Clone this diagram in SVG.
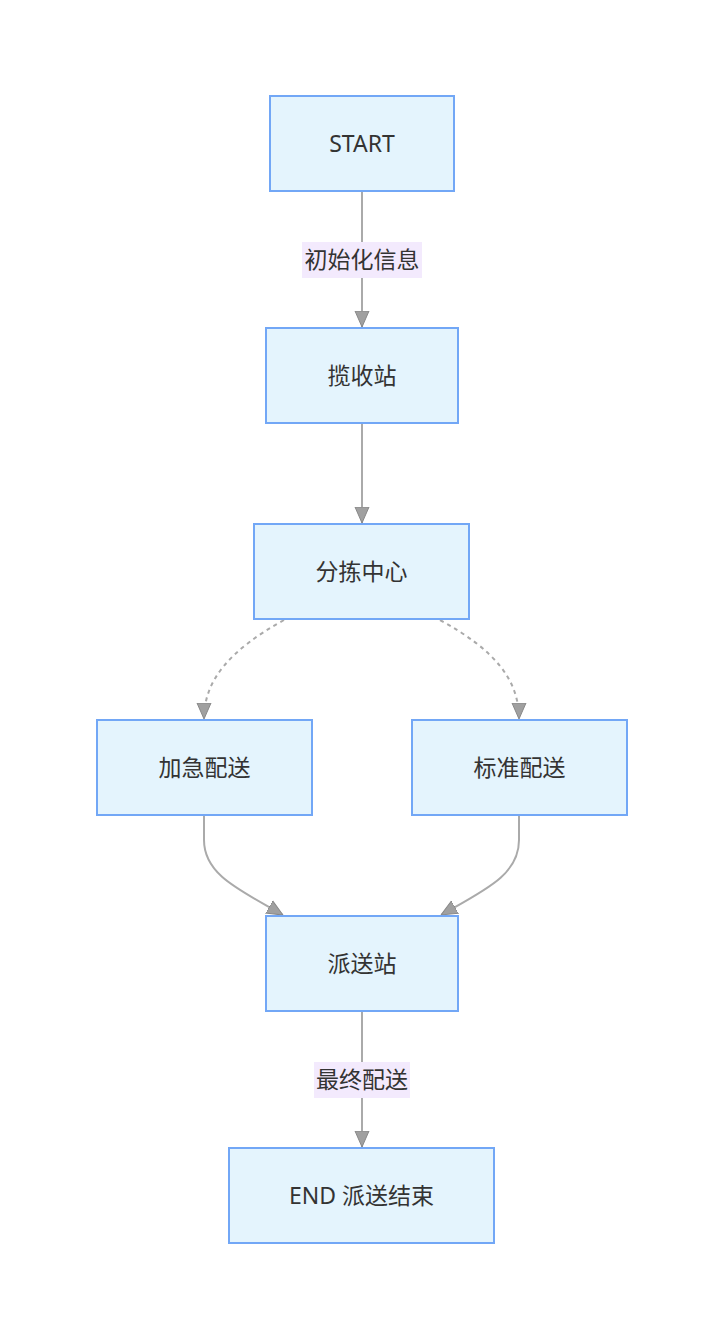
<svg xmlns="http://www.w3.org/2000/svg" width="724" height="1340" viewBox="0 0 724 1340">
<style>
.node rect{fill:#e4f4fd;stroke:#72a7f6;stroke-width:2}
.node text,.lbl text{font-family:"Noto Sans","Noto Sans CJK SC",sans-serif;font-size:23px;fill:#333;text-anchor:middle;dominant-baseline:central}
.edge{fill:none;stroke:#aaaaaa;stroke-width:2}
.dash{stroke-dasharray:4 4}
.lbl rect{fill:#f3eafd}
</style>
<defs>
<marker id="arr" viewBox="0 0 16 16" refX="16" refY="8" markerWidth="16" markerHeight="16" markerUnits="userSpaceOnUse" orient="auto">
<path d="M0,1 L16,8 L0,15 Z" fill="#a0a0a0" stroke="#888" stroke-width="1"/>
</marker>
</defs>
<rect width="724" height="1340" fill="#fff"/>
<g id="connectors">
<path class="edge" d="M362,192 L362,327" marker-end="url(#arr)"/>
<path class="edge" d="M362,424 L362,523" marker-end="url(#arr)"/>
<path class="edge dash" d="M284,620 C230,650 204,680 204,719" marker-end="url(#arr)"/>
<path class="edge dash" d="M440,620 C495,650 519,680 519,719" marker-end="url(#arr)"/>
<path class="edge" d="M204,816 L204,840 C204,875 240,890 283,915" marker-end="url(#arr)"/>
<path class="edge" d="M519,816 L519,840 C519,875 485,890 441,915" marker-end="url(#arr)"/>
<path class="edge" d="M362,1012 L362,1147" marker-end="url(#arr)"/>
<g class="lbl"><rect x="302" y="242" width="120" height="36"/><text x="362" y="259">初始化信息</text></g>
<g class="lbl"><rect x="314" y="1062" width="96" height="36"/><text x="362" y="1079">最终配送</text></g>
</g>
<g id="start" class="node"><rect x="270" y="96" width="184" height="95"/><text x="362" y="142.5">START</text></g>
<g id="lanshou" class="node"><rect x="266" y="328" width="192" height="95"/><text x="362" y="374.5">揽收站</text></g>
<g id="fenjian" class="node"><rect x="254" y="524" width="215" height="95"/><text x="361.5" y="570.5">分拣中心</text></g>
<g id="jiaji" class="node"><rect x="97" y="720" width="215" height="95"/><text x="204.5" y="766.5">加急配送</text></g>
<g id="biaozhun" class="node"><rect x="412" y="720" width="215" height="95"/><text x="519.5" y="766.5">标准配送</text></g>
<g id="paisong" class="node"><rect x="266" y="916" width="192" height="95"/><text x="362" y="962.5">派送站</text></g>
<g id="end" class="node"><rect x="229" y="1148" width="265" height="95"/><text x="361.5" y="1194.5">END 派送结束</text></g>
</svg>
